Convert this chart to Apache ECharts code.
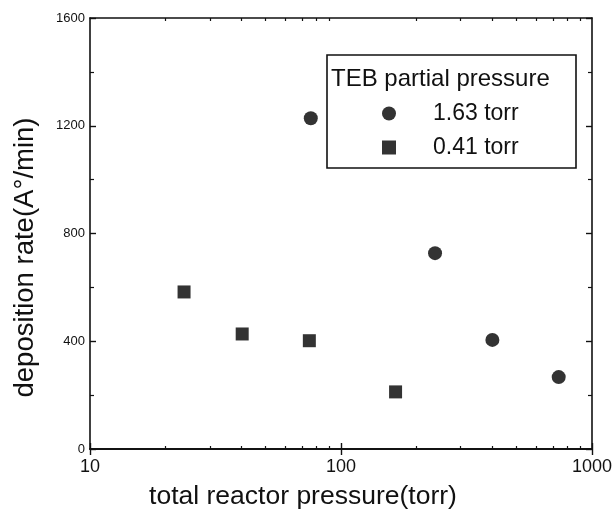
<!DOCTYPE html>
<html>
<head>
<meta charset="utf-8">
<script src="https://cdn.jsdelivr.net/npm/echarts@6/dist/echarts.min.js"></script>
<style>html,body{margin:0;padding:0;background:#fff}#c{width:615px;height:518px}</style>
</head>
<body>
<div id="c"></div>
<script>
const seriesNames = ['1.63 torr', '0.41 torr'];
const circlePressure = [75.8, 237, 401, 737];
const circleRate = [1228, 727, 405, 267];
const squarePressure = [23.7, 40.4, 74.8, 165];
const squareRate = [583, 427, 402, 212];
const xMajorTicks = [10, 100, 1000];
const xMinorTicks = [20, 30, 40, 50, 60, 70, 80, 90, 200, 300, 400, 500, 600, 700, 800, 900];
const yTicks = [0, 400, 800, 1200, 1600];
const legendTitle = 'TEB partial pressure';
const xTitle = 'total reactor pressure(torr)';
const yTitle = 'deposition rate(A\u00B0/min)';

const FONT = 'Liberation Sans, Arial, sans-serif';
const lineStyle = {color: '#111', width: 1.6};

function xAxisDef(pos, minor, main) {
  return {
    type: 'log', logBase: 10, min: 10, max: 1000, position: pos,
    axisLine: {show: true, lineStyle: lineStyle},
    axisTick: minor
      ? {show: true, inside: true, length: 3, customValues: xMinorTicks, lineStyle: {color: '#111', width: 1.2}}
      : {show: true, inside: true, length: 6, customValues: xMajorTicks, lineStyle: {color: '#111', width: 1.4}},
    axisLabel: main
      ? {show: true, customValues: xMajorTicks, fontSize: 18, color: '#111', fontFamily: FONT, margin: 9,
         formatter: v => String(Math.round(v))}
      : {show: false},
    splitLine: {show: false},
    name: main ? xTitle : '',
    nameLocation: 'middle', nameGap: 34,
    nameTextStyle: {fontSize: 26.5, color: '#111', fontFamily: FONT, padding: [0, 76, 0, 0]}
  };
}
function yAxisDef(pos, main) {
  return {
    type: 'value', min: 0, max: 1600, interval: 400, position: pos,
    axisLine: {show: true, lineStyle: lineStyle},
    axisTick: {show: true, inside: true, length: 6, lineStyle: {color: '#111', width: 1.4}},
    minorTick: {show: true, splitNumber: 2, length: 4, lineStyle: {color: '#111', width: 1.2}},
    axisLabel: main
      ? {show: true, fontSize: 13, color: '#111', fontFamily: FONT, margin: 5,
         formatter: v => yTicks.includes(v) ? String(v) : ''}
      : {show: false},
    splitLine: {show: false},
    minorSplitLine: {show: false},
    name: main ? yTitle : '',
    nameLocation: 'middle', nameGap: 51,
    nameTextStyle: {fontSize: 27.5, color: '#111', fontFamily: FONT, padding: [0, 48, 0, 0]}
  };
}

const chart = echarts.init(document.getElementById('c'), null, {renderer: 'canvas'});
chart.setOption({
  backgroundColor: '#fff',
  animation: false,
  grid: {left: 90, right: 23, top: 18, bottom: 69, containLabel: false},
  xAxis: [xAxisDef('bottom', false, true), xAxisDef('top', false, false),
          xAxisDef('bottom', true, false), xAxisDef('top', true, false)],
  yAxis: [yAxisDef('left', true), yAxisDef('right', false)],
  legend: {
    show: true, orient: 'vertical', left: 382, top: 102, itemGap: 11, padding: 0,
    itemWidth: 14, itemHeight: 14,
    textStyle: {fontSize: 23, lineHeight: 22, color: '#111', fontFamily: FONT, padding: [0, 0, 0, 32]},
    data: [{name: seriesNames[0], icon: 'circle'}, {name: seriesNames[1], icon: 'rect'}]
  },
  graphic: [
    {type: 'rect', shape: {x: 327, y: 55, width: 249, height: 113},
     style: {fill: 'transparent', stroke: '#111', lineWidth: 1.6}, z: 10},
    {type: 'text', left: 331, top: 67,
     style: {text: legendTitle, fontSize: 24, fill: '#111', fontFamily: FONT}, z: 10}
  ],
  series: [
    {name: seriesNames[0], type: 'scatter', symbol: 'circle', symbolSize: 14,
     itemStyle: {color: '#000'}, xAxisIndex: 0, yAxisIndex: 0,
     data: circlePressure.map((x, i) => [x, circleRate[i]])},
    {name: seriesNames[1], type: 'scatter', symbol: 'rect', symbolSize: 13,
     itemStyle: {color: '#000'}, xAxisIndex: 0, yAxisIndex: 0,
     data: squarePressure.map((x, i) => [x, squareRate[i]])}
  ]
});
</script>
</body>
</html>
